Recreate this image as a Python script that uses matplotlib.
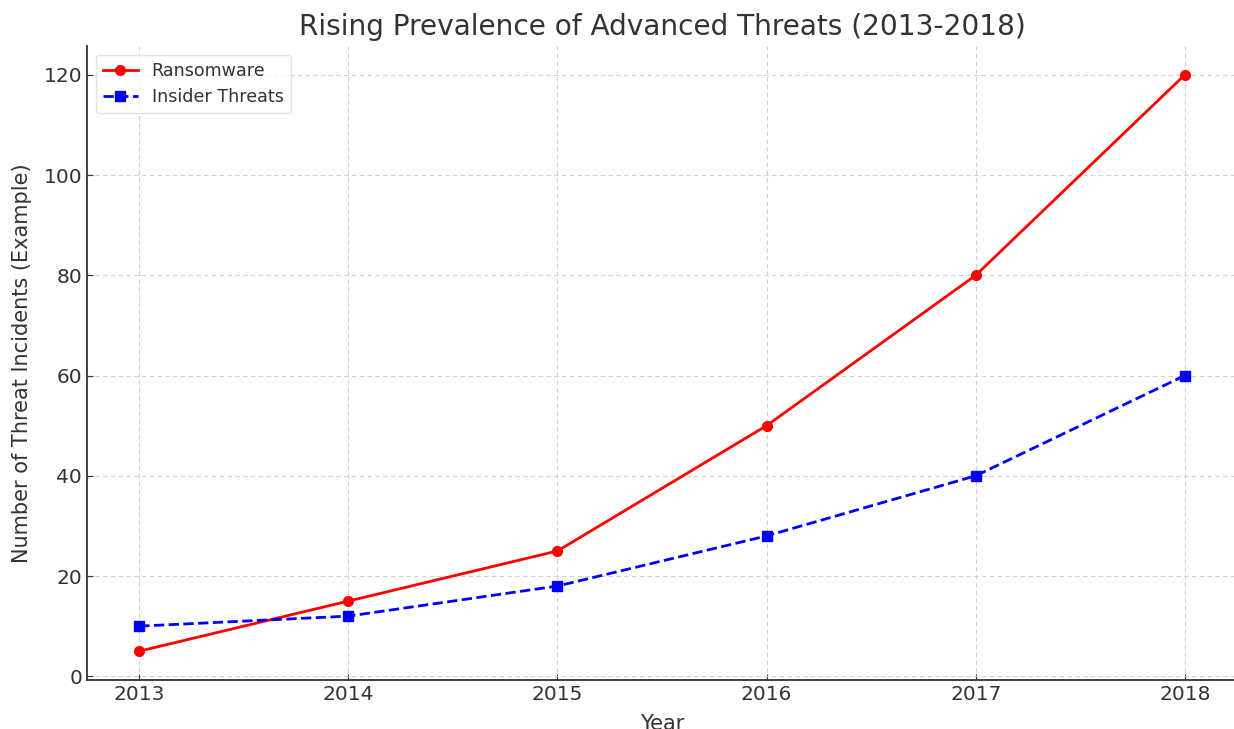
import matplotlib
matplotlib.use("Agg")
import matplotlib.pyplot as plt

years = [2013, 2014, 2015, 2016, 2017, 2018]
ransomware = [5, 15, 25, 50, 80, 120]
insider_threats = [10, 12, 18, 28, 40, 60]

text_color = "#333333"
plt.rcParams["text.color"] = text_color
plt.rcParams["axes.labelcolor"] = text_color
plt.rcParams["xtick.color"] = text_color
plt.rcParams["ytick.color"] = text_color

fig = plt.figure(figsize=(12.34, 7.29), dpi=100)
ax = fig.add_axes([0.0705, 0.0672, 0.932, 0.8697])

ax.plot(years, ransomware, "-o", color="red", lw=2, ms=7, label="Ransomware")
ax.plot(years, insider_threats, "--s", color="blue", lw=2, ms=7, label="Insider Threats")

ax.set_title("Rising Prevalence of Advanced Threats (2013-2018)", fontsize=20.2, pad=8)
ax.set_xlabel("Year", fontsize=15, labelpad=7)
ax.set_ylabel("Number of Threat Incidents (Example)", fontsize=15, labelpad=8)
ax.set_xticks(years)
ax.tick_params(direction="in", labelsize=14.5, length=4)
ax.grid(True, linestyle=(0, (4, 3)), color="#d0d0d0", lw=0.8)
for side in ["top", "right"]:
    ax.spines[side].set_visible(False)
for side in ["left", "bottom"]:
    ax.spines[side].set_color(text_color)
    ax.spines[side].set_linewidth(1.3)

ax.legend(loc="upper left", fontsize=12.6, frameon=True, edgecolor="#dddddd")

fig.savefig("out.png", dpi=100)
